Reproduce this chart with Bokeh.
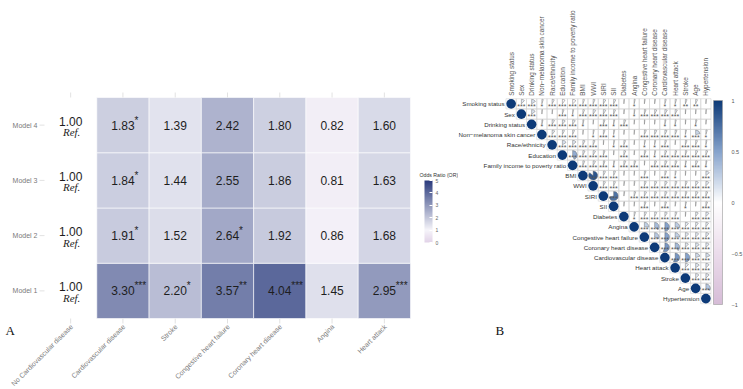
import math
from bokeh.plotting import figure
from bokeh.models import ColumnDataSource, LinearColorMapper, ColorBar, Range1d, FixedTicker
from bokeh.layouts import row
from bokeh.core.properties import value
from bokeh.transform import transform
from bokeh.embed import file_html
from bokeh.resources import INLINE

# ---------------- Panel A data ----------------
outcomes = ["No Cardiovascular disease", "Cardiovascular disease", "Stroke",
            "Congestive heart failure", "Coronary heart disease", "Angina", "Heart attack"]
models = ["Model 1", "Model 2", "Model 3", "Model 4"]
or_model1 = [1.00, 3.30, 2.20, 3.57, 4.04, 1.45, 2.95]
or_model2 = [1.00, 1.91, 1.52, 2.64, 1.92, 0.86, 1.68]
or_model3 = [1.00, 1.84, 1.44, 2.55, 1.86, 0.81, 1.63]
or_model4 = [1.00, 1.83, 1.39, 2.42, 1.80, 0.82, 1.60]
sig_model1 = ["", "***", "*", "**", "***", "", "***"]
sig_model2 = ["", "*", "", "*", "", "", ""]
sig_model3 = ["", "*", "", "", "", "", ""]
sig_model4 = ["", "*", "", "", "", "", ""]
or_ticks = [0, 1, 2, 3, 4, 5]

# ---------------- Panel B data ----------------
vars_b = ["Smoking status", "Sex", "Drinking status", "Non\u2212melanoma skin cancer",
          "Race/ethnicity", "Education", "Family income to poverty ratio", "BMI", "WWI",
          "SIRI", "SII", "Diabetes", "Angina", "Congestive heart failure",
          "Coronary heart disease", "Cardiovascular disease", "Heart attack", "Stroke",
          "Age", "Hypertension"]
corr_rows = [
    [0.12, 0.16, 0.05, 0.08, -0.10, -0.13, -0.06, 0.07, 0.09, 0.08, 0.02, 0.04, 0.03, 0.03, 0.05, 0.05, 0.06, 0.07, 0.02],
    [0.15, 0.02, 0.02, 0.06, 0.04, -0.06, 0.10, 0.09, 0.07, 0.02, 0.03, 0.06, 0.08, 0.09, 0.08, 0.02, 0.02, 0.02],
    [0.04, 0.09, 0.11, 0.10, 0.04, 0.02, 0.06, 0.04, 0.07, 0.02, 0.02, 0.02, 0.04, 0.04, 0.02, 0.05, 0.02],
    [0.10, 0.08, 0.07, 0.02, 0.04, 0.06, 0.04, 0.02, 0.02, 0.07, 0.08, 0.08, 0.07, 0.04, 0.22, 0.05],
    [0.16, 0.14, 0.08, 0.07, 0.02, 0.04, 0.06, 0.02, 0.04, 0.04, 0.06, 0.02, 0.06, 0.07, 0.04],
    [0.45, 0.08, 0.09, 0.06, 0.02, 0.07, 0.02, 0.06, 0.04, 0.07, 0.06, 0.06, 0.08, 0.07],
    [0.07, 0.09, 0.06, 0.04, 0.07, 0.06, 0.02, 0.07, 0.08, 0.07, 0.04, 0.08, 0.04],
    [0.86, 0.08, 0.07, 0.02, 0.02, 0.06, 0.02, 0.06, 0.04, 0.02, 0.02, 0.14],
    [0.08, 0.07, 0.03, 0.03, 0.07, 0.08, 0.09, 0.07, 0.07, 0.10, 0.12],
    [0.72, 0.03, 0.06, 0.08, 0.07, 0.08, 0.07, 0.06, 0.09, 0.07],
    [0.02, 0.02, 0.06, 0.02, 0.06, 0.03, 0.04, 0.02, 0.06],
    [0.05, 0.08, 0.08, 0.09, 0.07, 0.02, 0.10, 0.12],
    [0.26, 0.36, 0.50, 0.28, 0.12, 0.10, 0.10],
    [0.30, 0.50, 0.25, 0.13, 0.12, 0.12],
    [0.56, 0.38, 0.12, 0.15, 0.13],
    [0.56, 0.50, 0.20, 0.18],
    [0.12, 0.15, 0.13],
    [0.13, 0.13],
    [0.32],
]
star_rows = [
    ["***", "***", "*", "***", "***", "***", "***", "***", "***", "***", "", "*", "", "", "*", "*", "**", "**", ""],
    ["***", "", "", "***", "*", "***", "***", "***", "***", "", "*", "***", "***", "***", "***", "", "", ""],
    ["*", "***", "***", "***", "*", "", "***", "*", "***", "", "", "", "*", "*", "", "*", ""],
    ["***", "***", "***", "", "*", "***", "*", "", "", "***", "***", "***", "***", "*", "***", "*"],
    ["***", "***", "***", "***", "", "*", "***", "", "*", "*", "***", "", "***", "***", "*"],
    ["***", "***", "***", "***", "", "***", "", "***", "*", "***", "***", "***", "***", "***"],
    ["***", "***", "***", "*", "***", "***", "", "***", "***", "***", "*", "***", "*"],
    ["***", "***", "***", "", "", "***", "", "***", "*", "", "", "***"],
    ["***", "***", "", "", "***", "***", "***", "***", "***", "***", "***"],
    ["***", "", "***", "***", "***", "***", "***", "***", "***", "***"],
    ["", "", "***", "", "***", "", "*", "", "***"],
    ["*", "***", "***", "***", "***", "", "***", "***"],
    ["***", "***", "***", "***", "***", "***", "***"],
    ["***", "***", "***", "***", "***", "***"],
    ["***", "***", "***", "***", "***"],
    ["***", "***", "***", "***"],
    ["***", "***", "***"],
    ["***", "***"],
    ["***"],
]
corr_ticks = [-1, -0.5, 0, 0.5, 1]


# ---------------- colour helpers (styling) ----------------
def _rgb(h):
    h = h.lstrip("#")
    return tuple(int(h[k:k + 2], 16) for k in (0, 2, 4))


def ramp(stops, n=256):
    out = []
    for k in range(n):
        t = k / (n - 1)
        for (p0, c0), (p1, c1) in zip(stops[:-1], stops[1:]):
            if p0 <= t <= p1:
                f = (t - p0) / (p1 - p0) if p1 > p0 else 0
                a, b = _rgb(c0), _rgb(c1)
                rgb = [round(a[m] + (b[m] - a[m]) * f) for m in range(3)]
                out.append("#%02x%02x%02x" % tuple(rgb))
                break
    return out


pal_a = ramp([(0.0, "#e2d3e8"), (0.2, "#f6f5fa"), (1.0, "#2a3b7d")])
pal_b = ramp([(0.0, "#d6bcd7"), (0.25, "#ebdceb"), (0.5, "#ffffff"),
              (0.75, "#86a3cc"), (1.0, "#0d3a78")])

FONT = "Liberation Sans"
SERIF = "Liberation Serif"
H = 389
AX_COL = "#7a7a7a"
STUB = "#e2e2e2"

# ---------------- Panel A (frame = whole canvas; layout margins in px) ----------------
WA = 458
L, R, T, B = 44, 48, 97, 71             # margins of the tile area
nx, ny = len(outcomes), len(models)
cw = (WA - L - R) / nx                   # px per column
ch = (H - T - B) / ny                    # px per row
map_a = LinearColorMapper(palette=pal_a, low=0, high=5, nan_color="white")
xpos = [k + 0.5 for k in range(nx)]     # category centres
ypos = [k + 0.5 for k in range(ny)]

xs, ys, fills, labs, stars, isref = [], [], [], [], [], []
for yy, vals, sigs in zip(ypos, [or_model1, or_model2, or_model3, or_model4],
                          [sig_model1, sig_model2, sig_model3, sig_model4]):
    for k, (xx, v, sg) in enumerate(zip(xpos, vals, sigs)):
        xs.append(xx)
        ys.append(yy)
        fills.append(float("nan") if k == 0 else v)
        labs.append("%.2f" % v)
        stars.append(sg)
        isref.append(k == 0)
src_a = ColumnDataSource(dict(x=xs, y=ys, fill=fills))
keep = [k for k, r in enumerate(isref) if not r]
refk = [k for k, r in enumerate(isref) if r]
src_num = ColumnDataSource(dict(x=[xs[k] for k in keep], y=[ys[k] for k in keep],
                                lab=[labs[k] for k in keep], star=[stars[k] for k in keep]))
src_ref = ColumnDataSource(dict(x=[xs[k] for k in refk], y=[ys[k] for k in refk],
                                lab=[labs[k] for k in refk], ref=["Ref."] * len(refk)))

pA = figure(width=WA, height=H,
            x_range=Range1d(-L / cw, nx + R / cw), y_range=Range1d(-B / ch, ny + T / ch),
            output_backend="svg", toolbar_location=None,
            x_axis_location=None, y_axis_location=None, min_border=0)
pA.grid.visible = False
pA.outline_line_color = None

pA.rect(x="x", y="y", width=1, height=1, source=src_a,
        fill_color=transform("fill", map_a), line_color="white", line_width=0.6)
pA.text(x="x", y="y", text="lab", source=src_num, text_align="center",
        text_baseline="middle", text_font=value(FONT), text_font_size="12px",
        text_color="#1e1e1e")
pA.text(x="x", y="y", text="star", source=src_num, text_align="left",
        text_baseline="middle", text_font=value(FONT), text_font_size="10px",
        text_color="#1e1e1e", x_offset=11.5, y_offset=-5)
pA.text(x="x", y="y", text="lab", source=src_ref, text_align="center",
        text_baseline="middle", text_font=value(FONT), text_font_size="12px",
        text_color="#1e1e1e", y_offset=-4)
pA.text(x="x", y="y", text="ref", source=src_ref, text_align="center",
        text_baseline="middle", text_font=value(SERIF),
        text_font_style="italic", text_font_size="11px", text_color="#1e1e1e",
        x_offset=1, y_offset=7)

# tick stubs (grid ends peeking out of the tile area)
pA.ray(x=[0] * ny, y=ypos, length=5, length_units="screen", angle=math.pi,
       line_color=STUB, line_width=1)
pA.ray(x=xpos, y=[ny] * nx, length=5, length_units="screen", angle=math.pi / 2,
       line_color=STUB, line_width=1)
pA.ray(x=xpos, y=[0] * nx, length=5, length_units="screen", angle=-math.pi / 2,
       line_color=STUB, line_width=1)
# axis labels
pA.text(x=[0] * ny, y=ypos, text=models, text_align="right", text_baseline="middle",
        text_font=value(FONT), text_font_size="7px", text_color=AX_COL, x_offset=-7)
pA.text(x=xpos, y=[0] * nx, text=outcomes, angle=math.pi / 4, text_align="right",
        text_baseline="middle", text_font=value(FONT), text_font_size="7px",
        text_color=AX_COL, y_offset=7, x_offset=1)
# legend title and panel tag
pA.text(x=[nx], y=[ny], text=["Odds Ratio (OR)"], text_align="left", text_baseline="bottom",
        text_font=value(FONT), text_font_size="5.2px", text_color="#333333",
        x_offset=9, y_offset=80)
pA.text(x=[0], y=[0], text=["A"], text_align="left", text_baseline="bottom",
        text_font=value(SERIF), text_font_size="13px", text_color="#111111",
        x_offset=-39, y_offset=19)

cb_a = ColorBar(color_mapper=map_a, ticker=FixedTicker(ticks=or_ticks), width=8, height=62,
                major_label_text_font=FONT, major_label_text_font_size="5px",
                major_label_text_color="#666666", major_tick_line_color="white",
                major_tick_in=3, major_tick_out=0, label_standoff=3,
                padding=0, location=(424, 147), background_fill_alpha=0)
pA.add_layout(cb_a, "center")

# ---------------- Panel B ----------------
n = len(vars_b)
WB = 743 - WA
s = 10.25                      # cell size in px
x0 = -0.5 - (505.5 - WA) / s
y_top = -0.5 - 98.2 / s
pB = figure(width=WB, height=H, x_range=Range1d(x0, x0 + WB / s),
            y_range=Range1d(y_top + H / s, y_top), output_backend="svg",
            toolbar_location=None, x_axis_location=None, y_axis_location=None,
            min_border=0)
pB.grid.visible = False
pB.outline_line_color = None

map_b = LinearColorMapper(palette=pal_b, low=-1, high=1)
gx, gy, wx, wy, wr, wa, st = [], [], [], [], [], [], []
for i in range(n):
    gx.append(i); gy.append(i)
    for k, j in enumerate(range(i + 1, n)):
        r = corr_rows[i][k]
        gx.append(j); gy.append(i)
        wx.append(j); wy.append(i); wr.append(r)
        wa.append(math.pi / 2 - 2 * math.pi * abs(r))
        st.append(star_rows[i][k])

pB.rect(x=gx, y=gy, width=1, height=1, fill_color=None, line_color="#d4d4d4", line_width=0.6)
src_w = ColumnDataSource(dict(x=wx, y=wy, r=wr, a=wa, st=st))
pB.wedge(x="x", y="y", radius=0.44, start_angle="a", end_angle=math.pi / 2,
         direction="anticlock", source=src_w, fill_color=transform("r", map_b),
         line_color="#6a6a6a", line_width=0.45)
pB.circle(x=list(range(n)), y=list(range(n)), radius=0.47,
          fill_color=pal_b[-1], line_color=None)
pB.text(x="x", y="y", text="st", source=src_w, text_align="center", text_baseline="middle",
        text_font=value(FONT), text_font_size="7px", text_color="#555555", y_offset=2.5)
pB.text(x=list(range(n)), y=list(range(n)), text=vars_b, text_align="right",
        text_baseline="middle", text_font=value(FONT), text_font_size="6.2px",
        text_color="#333333", x_offset=-6.5)
pB.text(x=list(range(n)), y=[-0.5] * n, text=vars_b, angle=math.pi / 2,
        text_align="left", text_baseline="middle", text_font=value(FONT),
        text_font_size="6.4px", text_color="#555555", y_offset=-3)
pB.text(x=[-0.5], y=[n - 0.5], text=["B"], text_align="left", text_baseline="bottom",
        text_font=value(SERIF), text_font_size="13px", text_color="#111111",
        x_offset=-10.5, y_offset=34)

cb_b = ColorBar(color_mapper=map_b, ticker=FixedTicker(ticks=corr_ticks), width=9, height=204,
                major_label_overrides={-1: "\u22121", -0.5: "\u22120.5", 0: "0", 0.5: "0.5", 1: "1"},
                major_label_text_font=FONT, major_label_text_font_size="5.5px",
                major_label_text_color="#555555", major_tick_line_color=None,
                label_standoff=9, bar_line_color="#9a9a9a", bar_line_width=0.6,
                padding=0, location=(255, 85), background_fill_alpha=0)
pB.add_layout(cb_b, "center")

layout = row(pA, pB)
open("out.html", "w").write(file_html(layout, INLINE))
